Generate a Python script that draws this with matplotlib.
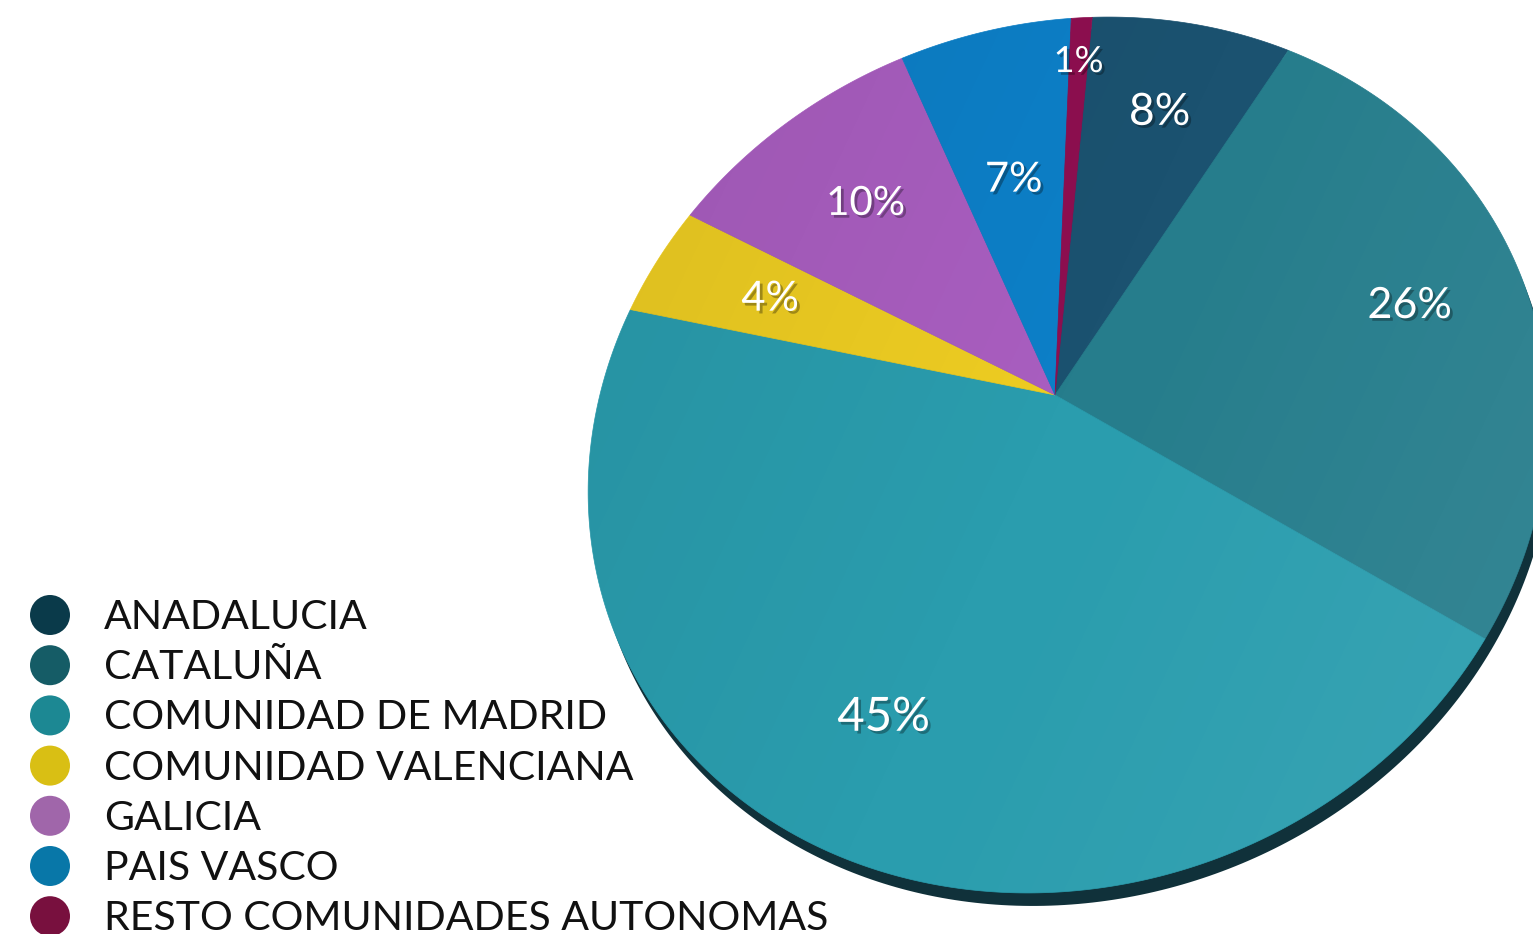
import numpy as np
import matplotlib
matplotlib.use("Agg")
import matplotlib.pyplot as plt
from matplotlib.patches import Polygon, Circle
import matplotlib.patheffects as pe

# data (legend order)
regions = ["ANADALUCIA", "CATALUÑA", "COMUNIDAD DE MADRID", "COMUNIDAD VALENCIANA",
           "GALICIA", "PAIS VASCO", "RESTO COMUNIDADES AUTONOMAS"]
shares = [7.7, 25.8, 44.9, 4.2, 10.0, 6.6, 0.8]
slice_colors = ["#1b5270", "#267d8c", "#2a9dae", "#eecd22", "#a95ec0", "#0d80c8", "#8e0f50"]
legend_colors = ["#0a3a4a", "#155c66", "#1c8893", "#d9bf14", "#a066aa", "#0877a8", "#78103e"]

# tilted pie geometry, in pixels (y down)
cx, cy = 1068, 455            # centre of the outline ellipse
ea, eb = 487, 430             # semi axes
phi = np.radians(-21.3)       # tilt of the major axis
apex = np.array([1055, 395])  # where the slices meet
start = 24.0                  # degrees clockwise, in disc space
label_r = [0.74, 0.76, 0.74, 0.70, 0.68, 0.56, 0.87]
label_fs = [32, 31, 34, 30, 29, 30, 26]

Rm = np.array([[np.cos(phi), -np.sin(phi)], [np.sin(phi), np.cos(phi)]])
p = (Rm.T @ (apex - [cx, cy])) / [ea, eb]
alpha = np.arctan2(p[1], p[0])
k = np.hypot(*p)
Ra = np.array([[np.cos(alpha), -np.sin(alpha)], [np.sin(alpha), np.cos(alpha)]])


def proj(theta_deg, r):
    t = np.radians(np.atleast_1d(theta_deg))
    w = np.vstack([r * np.sin(t), -r * np.cos(t)])
    w = Ra.T @ w
    d = 1 + k * w[0]
    w = np.vstack([(w[0] + k) / d, w[1] * np.sqrt(1 - k * k) / d])
    w = Ra @ w
    xy = Rm @ (w * np.array([[ea], [eb]]))
    return xy[0] + cx, xy[1] + cy


fig = plt.figure(figsize=(15.33, 9.34), dpi=100)
ax = fig.add_axes([0, 0, 1, 1])
ax.set_xlim(0, 1533)
ax.set_ylim(934, 0)
ax.axis("off")

# rim / shadow
th = np.linspace(0, 360, 500)
ex, ey = proj(th, 1.0)
ax.add_patch(Polygon(np.column_stack([ex + 5, ey + 13]), closed=True,
                     facecolor="#10313a", edgecolor="none", zorder=1))

frac = np.array(shares) / sum(shares) * 360
edges = start + np.concatenate([[0], np.cumsum(frac)])

for i in range(len(shares)):
    a0, a1 = edges[i], edges[i + 1]
    ts = np.linspace(a0, a1, max(int(a1 - a0) * 2, 4))
    px, py = proj(ts, 1.0)
    pts = np.vstack([apex, np.column_stack([px, py])])
    ax.add_patch(Polygon(pts, closed=True, facecolor=slice_colors[i],
                         edgecolor=slice_colors[i], linewidth=0.5, zorder=2))

# soft shading over the disc
outline = Polygon(np.column_stack([ex, ey]), closed=True, facecolor="none", edgecolor="none")
ax.add_patch(outline)
gx, gy = np.meshgrid(np.linspace(0, 1, 200), np.linspace(0, 1, 200))
tt = np.clip(gx * 0.7 + gy * 0.3, 0, 1)
shade = np.zeros((200, 200, 4))
shade[..., :3] = np.where(tt[..., None] > 0.5, 1.0, 0.0)
shade[..., 3] = np.abs(tt - 0.5) * 0.16
im = ax.imshow(shade, extent=(ex.min(), ex.max(), ey.max(), ey.min()),
               zorder=3, interpolation="bilinear", aspect="auto")
im.set_clip_path(outline)

# percentage labels
for i, s in enumerate(shares):
    mid = (edges[i] + edges[i + 1]) / 2
    lx, ly = proj(mid, label_r[i])
    ax.text(lx[0], ly[0], f"{s:.0f}%", color="white", fontsize=label_fs[i],
            family="Lato", ha="center", va="center", zorder=5,
            path_effects=[pe.withSimplePatchShadow(offset=(2, -2), shadow_rgbFace="black", alpha=0.3)])

# legend
for i, name in enumerate(regions):
    yc = 615 + i * 50.2
    ax.add_patch(Circle((50, yc), 20, facecolor=legend_colors[i], edgecolor="none", zorder=4))
    ax.text(104, yc + 14, name, fontsize=29.5, family="Lato",
            color="#111111", ha="left", va="baseline", zorder=4)

fig.savefig("out.png", dpi=100)
